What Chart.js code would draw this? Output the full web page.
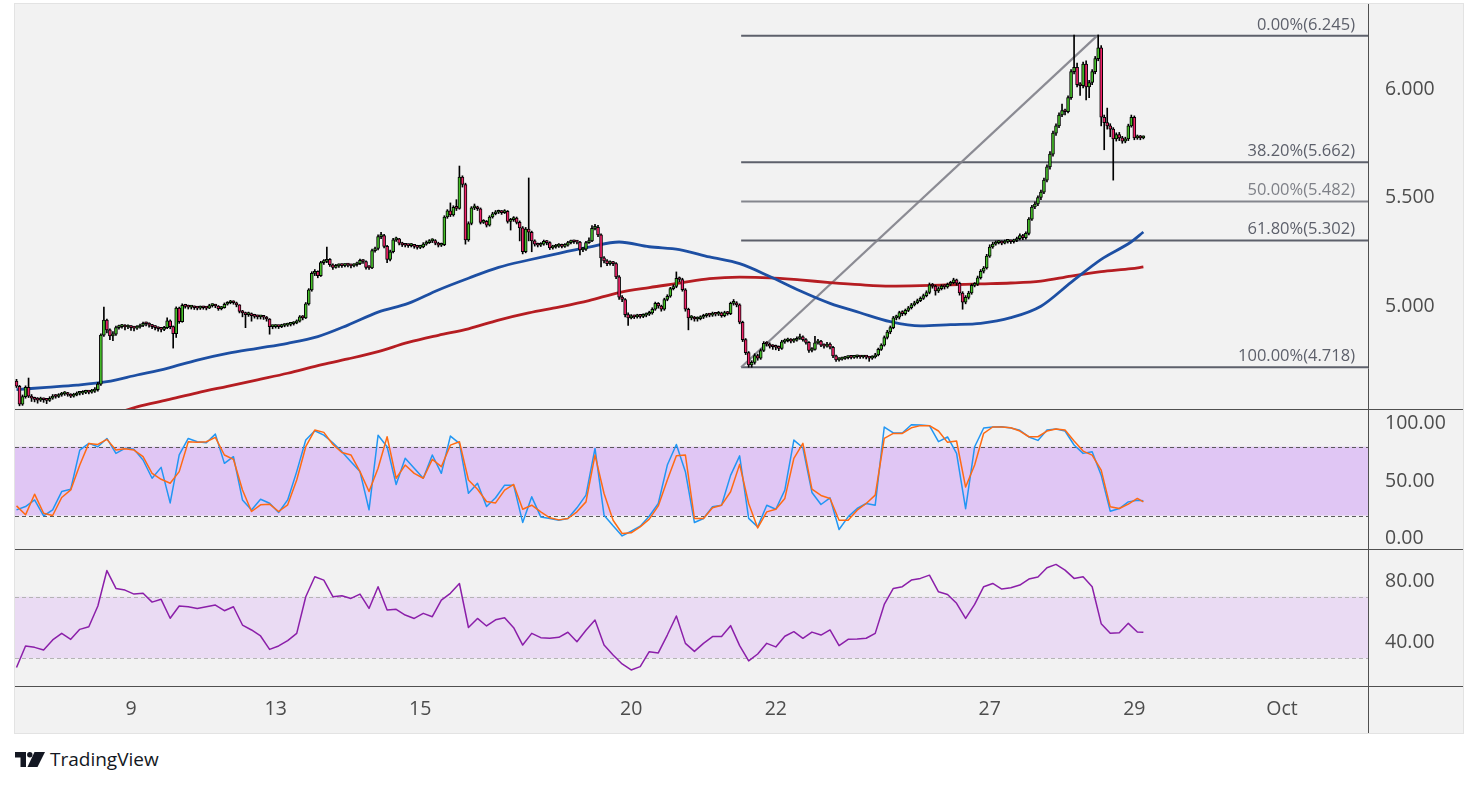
<!DOCTYPE html>
<html lang="en">
<head>
<meta charset="UTF-8">
<title>Fibonacci chart</title>
<script src="https://cdn.jsdelivr.net/npm/chart.js@4.4.1/dist/chart.umd.min.js"></script>
<style>
  html, body { margin: 0; padding: 0; background: #fff; }
  body { width: 1479px; height: 787px; position: relative; overflow: hidden; font-family: "Open Sans", sans-serif; }
  #panel { position: absolute; left: 14px; top: 3px; width: 1448px; height: 729px; border: 1px solid #e3e3e3; background: #f2f2f2; }
  #footer { position: absolute; left: 15px; top: 746px; height: 26px; line-height: 26px; display: flex; align-items: center; color: #131722; font-size: 19px; }
  #footer svg { margin-right: 5px; }
</style>
</head>
<body>
<div id="panel"><canvas id="chart"></canvas></div>
<div id="footer">
  <svg width="30" height="15" viewBox="0 0 30 15">
    <path d="M0 0H11V15H5.5V5.5H0Z" fill="#131722"/>
    <circle cx="14.8" cy="2.8" r="2.7" fill="#131722"/>
    <path d="M19.5 0H30L22.5 15H12.5Z" fill="#131722"/>
  </svg>
  <span>TradingView</span>
</div>
<script>
// hourly candles (open of each bar = previous close)
const firstOpen = 4.654;
const closes = [
  4.630, 4.548, 4.582, 4.625, 4.585, 4.575, 4.570, 4.566, 4.572, 4.568,
  4.565, 4.575, 4.585, 4.583, 4.590, 4.595, 4.598, 4.592, 4.585, 4.590,
  4.598, 4.598, 4.602, 4.604, 4.603, 4.608, 4.614, 4.640, 4.866, 4.935,
  4.890, 4.862, 4.870, 4.900, 4.905, 4.908, 4.903, 4.906, 4.900, 4.898,
  4.903, 4.910, 4.920, 4.918, 4.912, 4.905, 4.900, 4.895, 4.892, 4.900,
  4.932, 4.905, 4.872, 4.990, 4.928, 5.003, 4.998, 4.995, 4.995, 4.992,
  4.990, 4.994, 4.992, 4.990, 5.002, 5.004, 5.000, 4.988, 4.992, 5.008,
  5.015, 5.020, 5.015, 5.005, 4.975, 4.968, 4.960, 4.965, 4.955, 4.952,
  4.950, 4.950, 4.948, 4.940, 4.905, 4.905, 4.908, 4.905, 4.910, 4.912,
  4.915, 4.918, 4.922, 4.930, 4.950, 4.945, 5.010, 5.074, 5.150, 5.160,
  5.140, 5.200, 5.205, 5.215, 5.190, 5.178, 5.185, 5.188, 5.186, 5.190,
  5.188, 5.185, 5.190, 5.195, 5.210, 5.205, 5.178, 5.176, 5.255, 5.265,
  5.320, 5.325, 5.275, 5.215, 5.250, 5.305, 5.310, 5.290, 5.282, 5.280,
  5.278, 5.280, 5.275, 5.270, 5.272, 5.285, 5.292, 5.300, 5.302, 5.290,
  5.280, 5.283, 5.410, 5.438, 5.420, 5.455, 5.450, 5.594, 5.560, 5.305,
  5.380, 5.452, 5.455, 5.448, 5.385, 5.390, 5.372, 5.410, 5.425, 5.432,
  5.435, 5.430, 5.436, 5.390, 5.398, 5.405, 5.385, 5.360, 5.250, 5.355,
  5.340, 5.300, 5.285, 5.280, 5.285, 5.298, 5.292, 5.268, 5.272, 5.276,
  5.280, 5.275, 5.280, 5.292, 5.298, 5.296, 5.294, 5.258, 5.262, 5.292,
  5.300, 5.358, 5.362, 5.328, 5.222, 5.208, 5.195, 5.200, 5.195, 5.134,
  5.041, 5.030, 4.960, 4.945, 4.952, 4.950, 4.955, 4.952, 4.958, 4.962,
  4.968, 4.985, 5.012, 5.000, 4.985, 5.030, 5.045, 5.080, 5.090, 5.128,
  5.122, 5.075, 4.985, 4.945, 4.948, 4.940, 4.942, 4.948, 4.955, 4.960,
  4.958, 4.965, 4.962, 4.968, 4.955, 4.970, 4.965, 5.012, 5.015, 5.005,
  4.925, 4.845, 4.785, 4.728, 4.740, 4.772, 4.760, 4.795, 4.828, 4.825,
  4.815, 4.812, 4.810, 4.805, 4.835, 4.840, 4.845, 4.838, 4.842, 4.850,
  4.858, 4.845, 4.832, 4.795, 4.800, 4.830, 4.838, 4.820, 4.815, 4.825,
  4.810, 4.770, 4.752, 4.755, 4.758, 4.762, 4.765, 4.763, 4.766, 4.768,
  4.765, 4.767, 4.764, 4.760, 4.765, 4.775, 4.800, 4.820, 4.855, 4.880,
  4.900, 4.945, 4.948, 4.970, 4.965, 4.980, 4.992, 5.005, 5.015, 5.025,
  5.035, 5.048, 5.062, 5.098, 5.092, 5.070, 5.080, 5.092, 5.088, 5.100,
  5.108, 5.120, 5.105, 5.060, 5.018, 5.040, 5.060, 5.095, 5.100, 5.130,
  5.160, 5.175, 5.230, 5.272, 5.285, 5.292, 5.295, 5.290, 5.298, 5.300,
  5.296, 5.302, 5.310, 5.325, 5.315, 5.335, 5.400, 5.456, 5.470, 5.500,
  5.525, 5.580, 5.641, 5.700, 5.797, 5.830, 5.880, 5.900, 5.895, 5.960,
  6.080, 6.100, 6.020, 6.015, 6.115, 6.010, 6.030, 6.080, 6.140, 6.190,
  5.870, 5.845, 5.830, 5.815, 5.770, 5.790, 5.775, 5.760, 5.770, 5.830,
  5.870, 5.775, 5.780, 5.775, 5.778
];
const highs = [
  4.662, 4.634, 4.590, 4.632, 4.668, 4.592, 4.580, 4.578, 4.580, 4.576,
  4.574, 4.582, 4.592, 4.592, 4.596, 4.602, 4.606, 4.602, 4.596, 4.598,
  4.604, 4.606, 4.610, 4.612, 4.610, 4.616, 4.624, 4.648, 4.872, 4.995,
  4.940, 4.895, 4.882, 4.908, 4.912, 4.916, 4.914, 4.913, 4.910, 4.906,
  4.910, 4.917, 4.926, 4.926, 4.922, 4.915, 4.910, 4.904, 4.902, 4.906,
  4.946, 4.936, 4.908, 4.996, 4.995, 5.010, 5.008, 5.004, 5.002, 5.000,
  4.998, 5.000, 4.999, 4.997, 5.008, 5.010, 5.008, 5.002, 4.998, 5.014,
  5.020, 5.026, 5.024, 5.018, 5.006, 4.980, 4.972, 4.972, 4.968, 4.962,
  4.958, 4.956, 4.955, 4.952, 4.942, 4.912, 4.914, 4.912, 4.916, 4.918,
  4.921, 4.924, 4.928, 4.936, 4.956, 4.956, 5.016, 5.080, 5.158, 5.168,
  5.162, 5.206, 5.214, 5.272, 5.218, 5.194, 5.192, 5.194, 5.194, 5.196,
  5.195, 5.193, 5.196, 5.202, 5.216, 5.214, 5.208, 5.186, 5.262, 5.272,
  5.328, 5.340, 5.330, 5.280, 5.258, 5.312, 5.318, 5.312, 5.294, 5.288,
  5.286, 5.288, 5.284, 5.280, 5.280, 5.292, 5.300, 5.306, 5.310, 5.306,
  5.294, 5.290, 5.416, 5.444, 5.475, 5.462, 5.490, 5.645, 5.600, 5.566,
  5.388, 5.458, 5.470, 5.460, 5.452, 5.398, 5.394, 5.416, 5.432, 5.440,
  5.442, 5.440, 5.444, 5.440, 5.404, 5.412, 5.410, 5.392, 5.366, 5.362,
  5.590, 5.345, 5.305, 5.290, 5.292, 5.304, 5.302, 5.296, 5.280, 5.284,
  5.288, 5.285, 5.288, 5.298, 5.304, 5.304, 5.302, 5.298, 5.270, 5.298,
  5.314, 5.370, 5.376, 5.372, 5.332, 5.228, 5.214, 5.208, 5.206, 5.200,
  5.140, 5.048, 5.034, 4.968, 4.960, 4.958, 4.962, 4.960, 4.964, 4.968,
  4.976, 4.992, 5.018, 5.016, 5.004, 5.036, 5.052, 5.086, 5.098, 5.157,
  5.134, 5.128, 5.080, 4.990, 4.956, 4.952, 4.950, 4.955, 4.962, 4.966,
  4.966, 4.972, 4.970, 4.975, 4.972, 4.976, 4.975, 5.018, 5.030, 5.020,
  5.010, 4.930, 4.850, 4.790, 4.748, 4.780, 4.778, 4.802, 4.836, 4.836,
  4.830, 4.822, 4.820, 4.816, 4.842, 4.848, 4.852, 4.850, 4.850, 4.858,
  4.870, 4.862, 4.850, 4.836, 4.808, 4.860, 4.846, 4.842, 4.826, 4.832,
  4.830, 4.814, 4.774, 4.762, 4.764, 4.768, 4.770, 4.770, 4.772, 4.774,
  4.772, 4.773, 4.771, 4.768, 4.771, 4.782, 4.806, 4.826, 4.862, 4.888,
  4.908, 4.952, 4.958, 4.976, 4.978, 4.986, 4.998, 5.012, 5.022, 5.032,
  5.042, 5.055, 5.070, 5.106, 5.104, 5.096, 5.088, 5.098, 5.098, 5.106,
  5.114, 5.128, 5.124, 5.110, 5.066, 5.048, 5.068, 5.102, 5.108, 5.138,
  5.168, 5.182, 5.238, 5.282, 5.294, 5.300, 5.302, 5.300, 5.304, 5.306,
  5.304, 5.308, 5.318, 5.332, 5.330, 5.342, 5.408, 5.464, 5.480, 5.508,
  5.534, 5.590, 5.650, 5.712, 5.806, 5.840, 5.890, 5.930, 5.908, 5.968,
  6.090, 6.249, 6.120, 6.030, 6.124, 6.130, 6.040, 6.090, 6.150, 6.249,
  6.200, 5.880, 5.912, 5.840, 5.822, 5.798, 5.800, 5.782, 5.778, 5.838,
  5.880, 5.876, 5.788, 5.786, 5.784
];
const lows = [
  4.624, 4.540, 4.542, 4.575, 4.578, 4.560, 4.558, 4.552, 4.560, 4.556,
  4.550, 4.560, 4.570, 4.575, 4.578, 4.584, 4.588, 4.584, 4.578, 4.580,
  4.586, 4.590, 4.592, 4.596, 4.595, 4.598, 4.602, 4.608, 4.634, 4.860,
  4.876, 4.845, 4.840, 4.864, 4.893, 4.898, 4.890, 4.896, 4.888, 4.885,
  4.892, 4.898, 4.905, 4.908, 4.902, 4.896, 4.890, 4.884, 4.880, 4.886,
  4.895, 4.895, 4.806, 4.855, 4.920, 4.925, 4.990, 4.986, 4.986, 4.984,
  4.982, 4.984, 4.985, 4.982, 4.988, 4.995, 4.992, 4.980, 4.982, 4.990,
  5.004, 5.010, 5.008, 4.996, 4.968, 4.950, 4.900, 4.952, 4.930, 4.944,
  4.940, 4.940, 4.938, 4.930, 4.870, 4.895, 4.898, 4.896, 4.900, 4.904,
  4.906, 4.908, 4.912, 4.918, 4.926, 4.936, 4.942, 5.004, 5.068, 5.140,
  5.130, 5.136, 5.192, 5.200, 5.182, 5.168, 5.174, 5.178, 5.178, 5.180,
  5.180, 5.176, 5.180, 5.184, 5.190, 5.196, 5.170, 5.168, 5.172, 5.248,
  5.258, 5.310, 5.268, 5.200, 5.208, 5.245, 5.298, 5.282, 5.274, 5.272,
  5.270, 5.272, 5.266, 5.262, 5.264, 5.268, 5.280, 5.288, 5.292, 5.282,
  5.272, 5.274, 5.278, 5.404, 5.412, 5.414, 5.440, 5.446, 5.548, 5.285,
  5.298, 5.374, 5.444, 5.440, 5.378, 5.380, 5.364, 5.368, 5.405, 5.420,
  5.426, 5.422, 5.426, 5.382, 5.350, 5.390, 5.378, 5.300, 5.240, 5.245,
  5.300, 5.250, 5.276, 5.272, 5.274, 5.280, 5.282, 5.260, 5.262, 5.266,
  5.270, 5.268, 5.270, 5.276, 5.286, 5.288, 5.286, 5.235, 5.250, 5.256,
  5.288, 5.296, 5.350, 5.320, 5.180, 5.198, 5.186, 5.188, 5.186, 5.126,
  5.030, 5.020, 4.950, 4.910, 4.940, 4.942, 4.944, 4.944, 4.946, 4.950,
  4.956, 4.962, 4.980, 4.990, 4.976, 4.980, 5.024, 5.040, 5.074, 5.084,
  5.112, 5.068, 4.976, 4.890, 4.936, 4.930, 4.930, 4.936, 4.942, 4.948,
  4.950, 4.952, 4.954, 4.956, 4.948, 4.950, 4.958, 4.960, 5.004, 4.996,
  4.918, 4.836, 4.776, 4.718, 4.718, 4.732, 4.750, 4.754, 4.790, 4.815,
  4.806, 4.800, 4.798, 4.794, 4.800, 4.828, 4.834, 4.830, 4.832, 4.838,
  4.846, 4.838, 4.824, 4.786, 4.788, 4.796, 4.824, 4.812, 4.806, 4.810,
  4.802, 4.762, 4.745, 4.746, 4.750, 4.754, 4.756, 4.756, 4.758, 4.760,
  4.758, 4.760, 4.756, 4.745, 4.754, 4.760, 4.770, 4.795, 4.815, 4.848,
  4.872, 4.895, 4.936, 4.940, 4.955, 4.958, 4.974, 4.986, 5.000, 5.010,
  5.020, 5.030, 5.042, 5.056, 5.082, 5.050, 5.062, 5.074, 5.078, 5.082,
  5.094, 5.102, 5.096, 5.050, 4.985, 5.010, 5.032, 5.054, 5.088, 5.094,
  5.124, 5.152, 5.170, 5.224, 5.266, 5.280, 5.286, 5.282, 5.286, 5.290,
  5.288, 5.290, 5.296, 5.304, 5.306, 5.308, 5.328, 5.394, 5.448, 5.462,
  5.490, 5.518, 5.572, 5.630, 5.690, 5.786, 5.822, 5.872, 5.880, 5.890,
  5.952, 6.070, 6.010, 5.970, 6.005, 5.950, 5.960, 6.020, 6.070, 6.130,
  5.830, 5.720, 5.815, 5.780, 5.580, 5.760, 5.762, 5.750, 5.752, 5.762,
  5.824, 5.766, 5.768, 5.766, 5.770
];

// moving averages, sampled every 10 bars
const maBars = [0, 10, 20, 30, 40, 50, 60, 70, 80, 90, 100, 110, 120, 130, 140, 150, 160, 170, 180, 190,
  200, 210, 220, 230, 240, 250, 260, 270, 280, 290, 300, 310, 320, 330, 340, 350, 360, 370, 374];
const maFast = [4.615, 4.625, 4.635, 4.651, 4.682, 4.713, 4.751, 4.782, 4.805, 4.828,
  4.859, 4.912, 4.972, 5.012, 5.074, 5.128, 5.178, 5.212, 5.243, 5.271,
  5.295, 5.273, 5.260, 5.226, 5.195, 5.136, 5.070, 5.012, 4.969, 4.928,
  4.908, 4.914, 4.920, 4.946, 4.999, 5.109, 5.215, 5.296, 5.341];
// slow average enters the pane at bar 30
const maSlow = [4.490, 4.535, 4.567, 4.600, 4.630, 4.660, 4.690, 4.725, 4.756, 4.790,
  4.832, 4.865, 4.895, 4.935, 4.968, 4.995, 5.025, 5.062, 5.085, 5.105,
  5.126, 5.133, 5.130, 5.120, 5.108, 5.098, 5.092, 5.094, 5.098, 5.102,
  5.106, 5.115, 5.138, 5.158, 5.172, 5.180];

// oscillators, sampled every 3 bars (last value = last bar)
const stochK = [24.9, 27.8, 33.6, 19.7, 24.9, 40.9, 42.9, 77.1, 82.9, 80,
  87.2, 74.2, 78.6, 77.7, 68.4, 52.5, 62, 31, 72.8, 87.2,
  84.3, 83.5, 91, 65.5, 71.3, 33.6, 24.9, 34.2, 30.7, 22.6,
  33.6, 58.3, 85.8, 93.9, 90.1, 83.5, 75.7, 67, 58.3, 25,
  90, 80, 47, 69.9, 61.2, 52.5, 72.8, 56.8, 89.3, 82.9,
  39.4, 48.1, 27.8, 35.5, 46.5, 46.5, 14, 36.3, 18.8, 17.4,
  15.9, 17.4, 26.7, 37.8, 78.5, 20.3, 11, 2.2, 6.3, 10.7,
  19.4, 30.5, 64, 82, 58.2, 13.9, 17.4, 27.6, 29, 55,
  72, 17.5, 10.1, 29, 25.5, 42.1, 85.8, 79.1, 40.1, 29.6,
  35.4, 7.8, 18.8, 26.1, 30.5, 29, 97.2, 92, 92, 99.2,
  98.9, 98.4, 84.4, 88.5, 74.2, 26, 80, 96.3, 97.2, 97.5,
  96.3, 94.3, 88.5, 85.5, 94.6, 95.4, 93.7, 81.5, 74.2, 75.6,
  55.2, 23.8, 26.1, 31.9, 33.4, 32.8];
const stochD = [28.4, 20.6, 38.6, 22, 20, 35.7, 42.3, 64, 82.9, 82,
  86.4, 77.1, 78.3, 77.1, 71.3, 56.8, 51.6, 48.1, 58.3, 84.3,
  83.8, 84.3, 88.1, 72.8, 69, 42.3, 23.5, 29.3, 29.9, 23.5,
  29.3, 51, 80, 94.5, 92.5, 82, 75, 72.8, 58.3, 40.9,
  61.2, 88.7, 52.5, 64, 56.8, 52.5, 69, 62.6, 81.4, 84.3,
  51, 42.9, 32.2, 31, 42.1, 47.1, 25.5, 29, 23.2, 18,
  16.2, 17.4, 23.2, 31.9, 72.7, 39.2, 15.9, 4.3, 4.9, 10.1,
  16.8, 28.4, 50.9, 72.1, 72.7, 17.4, 17.4, 26.7, 29, 40.7,
  64.6, 30.5, 9.2, 23.2, 25.5, 34.9, 69.8, 82.9, 43, 37.5,
  34.9, 15.9, 15.9, 24.7, 30.5, 37.8, 87.3, 91.6, 91.6, 96.5,
  98.4, 98.4, 93.7, 83.8, 85, 44.8, 64, 91.7, 97.2, 97.2,
  96.6, 93.7, 88.7, 88.7, 93.7, 95.4, 94.6, 85, 76.2, 72.7,
  59.6, 27.6, 26.1, 29.9, 34.9, 31.9];
const rsiValues = [24, 38, 37.1, 35.4, 41.9, 46.2, 42.3, 48.8, 50.5, 64,
  87, 75.4, 74.3, 71.7, 72.2, 66.5, 68.3, 56, 64, 63.5,
  62.4, 63.5, 64.6, 60.9, 63.5, 51.6, 48.4, 44.5, 35.8, 38,
  41.5, 46.2, 70, 83, 80.8, 70, 70.6, 68.9, 71.7, 62.4,
  76.5, 61.4, 61.8, 58.1, 55.9, 59.2, 57, 67.8, 72.2, 78.6,
  50, 55.9, 51, 55, 56.4, 49.9, 38.6, 46.2, 43.4, 43,
  43.6, 46.9, 40.8, 48.2, 54.9, 38.6, 32.2, 26.3, 22.4, 24.6,
  34.3, 33.5, 45.1, 57.5, 39.7, 34.5, 39.7, 44.1, 44.1, 51.2,
  38.2, 28.3, 32.8, 39.7, 37.4, 44.3, 47.3, 43, 47, 45.1,
  48.4, 38.2, 42.3, 42.5, 43, 46.2, 65, 75.4, 76.5, 80.8,
  81.9, 84, 73.2, 71.5, 65.7, 55.9, 65, 76.5, 78.6, 75,
  75.8, 77.6, 81.5, 82.8, 88.8, 91, 87.3, 81.9, 83, 76.5,
  52.5, 46.2, 46.6, 52.7, 47.1, 46.9];

// fibonacci retracement drawn from the swing low to the swing high
const fibStartBar = 240.5;
const fibPeakBar = 358.6;
const fibRatios = [0, 0.382, 0.5, 0.618, 1];
const fibPrices = [6.245, 5.662, 5.482, 5.302, 4.718];

// axis labels
const dayTickBars = [38, 86, 134, 204, 252, 323, 371, 420];
const dayTickLabels = ['9', '13', '15', '20', '22', '27', '29', 'Oct'];
const priceTicks = [5, 5.5, 6];
const stochTicks = [0, 50, 100];
const rsiTicks = [40, 80];

// ---- build the chart ----
const lastSlot = 448.55;
const upColor = '#46bf2a';
const downColor = '#ef2469';
const axisText = '#4d4d4d';

const opens = [firstOpen].concat(closes.slice(0, -1));
const wickData = closes.map((c, i) => ({ x: i, y: [lows[i], highs[i]] }));
const bodyData = closes.map((c, i) => ({ x: i, y: [opens[i], c], up: c >= opens[i] }));
const oscBars = stochK.map((v, k) => Math.min(k * 3, closes.length - 1));
const pts = (xs, ys) => ys.map((v, i) => ({ x: xs[i], y: v }));

Chart.defaults.font.family = '"Open Sans", sans-serif';

const lineBase = { type: 'line', pointRadius: 0, fill: false, borderJoinStyle: 'round' };

const datasets = [
  { type: 'bar', data: bodyData, yAxisID: 'yMain', order: 0, grouped: false,
    barThickness: 3, minBarLength: 2, borderWidth: 1, borderSkipped: false, borderColor: '#000',
    backgroundColor: c => (c.raw && c.raw.up ? upColor : downColor) },
  { type: 'bar', data: wickData, yAxisID: 'yMain', order: 1, grouped: false,
    barThickness: 1, backgroundColor: '#000' },
  { ...lineBase, data: pts(maBars, maFast), yAxisID: 'yMain', order: 2,
    borderColor: '#1d4fa3', borderWidth: 2.8, cubicInterpolationMode: 'monotone' },
  { ...lineBase, data: pts(maBars.slice(3), maSlow), yAxisID: 'yMain', order: 3,
    borderColor: '#b51d22', borderWidth: 2.8, cubicInterpolationMode: 'monotone' },
  { ...lineBase, data: [{ x: fibStartBar, y: fibPrices[4] }, { x: fibPeakBar, y: fibPrices[0] }],
    yAxisID: 'yMain', order: 4, borderColor: 'rgba(128,128,136,0.9)', borderWidth: 2.2 },
  { ...lineBase, data: pts(oscBars, stochD), yAxisID: 'yStoch', order: 0, borderColor: '#ff6a13', borderWidth: 1.5 },
  { ...lineBase, data: pts(oscBars, stochK), yAxisID: 'yStoch', order: 1, borderColor: '#2196f3', borderWidth: 1.5 },
  { ...lineBase, data: pts(oscBars, rsiValues), yAxisID: 'yRsi', order: 0, borderColor: '#8b1fa9', borderWidth: 1.5 }
];
// fib levels as flat lines out to the price axis
fibPrices.forEach((p, k) => {
  datasets.push({ ...lineBase, data: [{ x: fibStartBar, y: p }, { x: lastSlot, y: p }],
    yAxisID: 'yMain', order: 5, borderWidth: 2, borderColor: fibRatios[k] === 0.5 ? '#84868d' : '#5d606b' });
});

function rightAxis(weight, min, max, ticks, digits) {
  return {
    position: 'right', stack: 'panes', stackWeight: weight, min: min, max: max,
    bounds: 'data', beginAtZero: false, offset: false,
    grid: { display: false, drawTicks: false }, border: { display: false },
    afterBuildTicks: s => { s.ticks = ticks.map(v => ({ value: v })); },
    // fixed axis width, and no label overhang pushing the panes down
    afterFit: s => { s.width = 95; s.paddingTop = 0; s.paddingBottom = 0; },
    ticks: { autoSkip: false, padding: 17, color: axisText, font: { size: 19.5 },
      callback: v => Number(v).toFixed(digits) }
  };
}

function band(chart, scale, lo, hi, fill, dash) {
  const { ctx, chartArea: a } = chart;
  const y1 = scale.getPixelForValue(hi), y2 = scale.getPixelForValue(lo);
  ctx.save();
  ctx.fillStyle = fill;
  ctx.fillRect(a.left, y1, a.right - a.left, y2 - y1);
  ctx.strokeStyle = dash;
  ctx.lineWidth = 1;
  ctx.setLineDash([4, 3]);
  [y1, y2].forEach(y => {
    ctx.beginPath();
    ctx.moveTo(a.left, Math.round(y) + 0.5);
    ctx.lineTo(a.right, Math.round(y) + 0.5);
    ctx.stroke();
  });
  ctx.restore();
}

const panesPlugin = {
  id: 'panes',
  beforeDatasetsDraw(chart) {
    band(chart, chart.scales.yStoch, 20, 80, '#e0c6f4', '#5a5a5a');
    band(chart, chart.scales.yRsi, 30, 70, '#eadbf3', '#b4b4b4');
  },
  // keep each dataset inside its own pane
  beforeDatasetDraw(chart, args) {
    const ds = chart.data.datasets[args.index];
    const ya = chart.scales[ds.yAxisID];
    const a = chart.chartArea;
    chart.ctx.save();
    chart.ctx.beginPath();
    chart.ctx.rect(a.left, ya.top, a.right - a.left, ya.bottom - ya.top);
    chart.ctx.clip();
  },
  afterDatasetDraw(chart) {
    chart.ctx.restore();
  },
  afterDraw(chart) {
    const { ctx, chartArea: a, scales: s } = chart;
    ctx.save();
    ctx.strokeStyle = '#505050';
    ctx.lineWidth = 1;
    [s.yStoch.top, s.yRsi.top, s.yRsi.bottom].forEach(y => {
      ctx.beginPath();
      ctx.moveTo(0, Math.round(y) + 0.5);
      ctx.lineTo(chart.width, Math.round(y) + 0.5);
      ctx.stroke();
    });
    ctx.beginPath();
    ctx.moveTo(Math.round(a.right) + 0.5, 0);
    ctx.lineTo(Math.round(a.right) + 0.5, chart.height);
    ctx.stroke();

    // fib level captions
    ctx.font = '16.5px "Open Sans", sans-serif';
    ctx.textAlign = 'right';
    ctx.textBaseline = 'alphabetic';
    fibPrices.forEach((p, k) => {
      ctx.fillStyle = fibRatios[k] === 0.5 ? '#7f8188' : '#5d606b';
      const txt = (fibRatios[k] * 100).toFixed(2) + '%(' + p.toFixed(3) + ')';
      ctx.fillText(txt, a.right - 13, s.yMain.getPixelForValue(p) - 6);
    });
    ctx.restore();
  }
};

new Chart(document.getElementById('chart'), {
  type: 'line',
  data: { datasets: datasets },
  options: {
    responsive: true,
    maintainAspectRatio: false,
    animation: false,
    events: [],
    layout: { padding: 0 },
    plugins: { legend: { display: false }, tooltip: { enabled: false } },
    scales: {
      x: {
        type: 'linear', min: -0.5, max: lastSlot, bounds: 'data', offset: false,
        grid: { display: false, drawTicks: false }, border: { display: false },
        afterBuildTicks: s => { s.ticks = dayTickBars.map(v => ({ value: v })); },
        afterFit: s => { s.height = 47; s.paddingLeft = 0; s.paddingRight = 0; },
        ticks: { autoSkip: false, maxRotation: 0, padding: 12, color: axisText, font: { size: 19.5 },
          callback: (v, i) => dayTickLabels[i] }
      },
      yMain: rightAxis(405, 4.5253, 6.3917, priceTicks, 3),
      yStoch: rightAxis(140, -9.2, 112.9, stochTicks, 2),
      yRsi: rightAxis(137, 12, 101, rsiTicks, 2)
    }
  },
  plugins: [panesPlugin]
});
</script>
</body>
</html>
